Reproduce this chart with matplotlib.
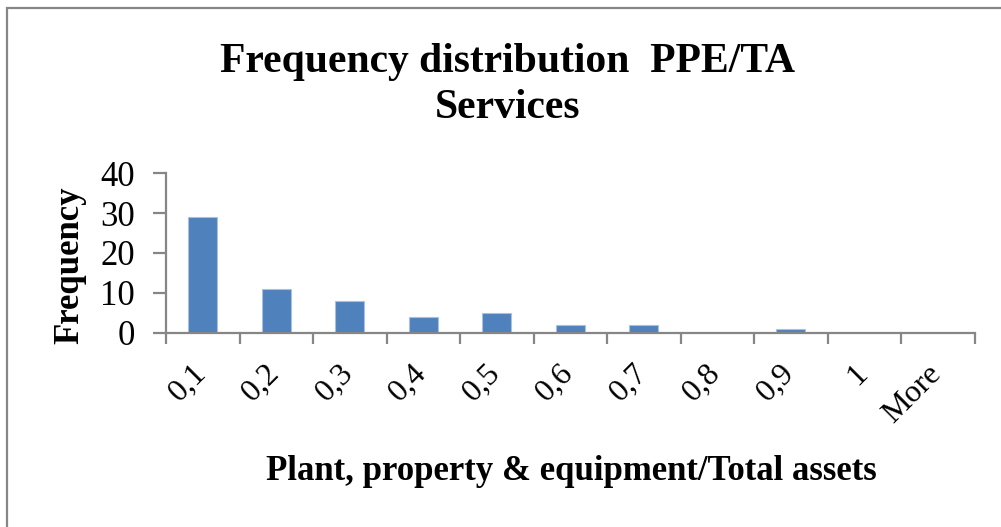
import matplotlib
matplotlib.use("Agg")
import matplotlib.pyplot as plt
from matplotlib.patches import Rectangle
from matplotlib.transforms import ScaledTranslation
import numpy as np

# histogram bins (upper edges) and counts
bins = ['0,1', '0,2', '0,3', '0,4', '0,5', '0,6', '0,7', '0,8', '0,9', '1', 'More']
frequency = [29, 11, 8, 4, 5, 2, 2, 0, 1, 0, 0]
y_ticks = [0, 10, 20, 30, 40]

title_lines = ['Frequency distribution  PPE/TA', 'Services']
x_label = 'Plant, property & equipment/Total assets'
y_label = 'Frequency'

bar_color = '#4F81BD'
axis_color = '#868686'
serif = ['Liberation Serif', 'DejaVu Serif']

W, H = 1001, 527
fig = plt.figure(figsize=(W / 100, H / 100), dpi=100)
ax = fig.add_axes([166 / W, 1 - 332.5 / H, 808.5 / W, 159.2 / H])

x = np.arange(len(bins))
ax.bar(x, frequency, width=0.4, color=bar_color, edgecolor='#a9c1e0', linewidth=0.8, zorder=2)

ax.set_xlim(-0.5, len(bins) - 0.5)
ax.set_ylim(0, 40)

# spines like an Excel chart: only the left and bottom axis lines
for side in ['top', 'right']:
    ax.spines[side].set_visible(False)
for side in ['left', 'bottom']:
    ax.spines[side].set_color(axis_color)
    ax.spines[side].set_linewidth(1.6)
    ax.spines[side].set_zorder(3)

ax.set_yticks(y_ticks)
ax.set_yticklabels([str(v) for v in y_ticks], fontsize=25, family=serif)
ax.tick_params(axis='y', length=9.4, width=1.6, color=axis_color, pad=13)

# category labels at centres, tick marks between categories
ax.set_xticks(x)
ax.set_xticks(np.arange(-0.5, len(bins)), minor=True)
ax.tick_params(axis='x', which='major', length=0, pad=19)
ax.tick_params(axis='x', which='minor', length=7.7, width=1.6, color=axis_color)
ax.set_xticklabels(bins, fontsize=23, family=serif, rotation=45,
                   ha='right', va='top', rotation_mode='anchor')
shift = ScaledTranslation(-11 / 100, 0, fig.dpi_scale_trans)
for lab in ax.get_xticklabels():
    lab.set_transform(lab.get_transform() + shift)

fig.text(70 / W, 1 - 265 / H, y_label, fontsize=25, fontweight='bold', family=serif,
         rotation=90, ha='center', va='center')
fig.text(571 / W, 1 - 472 / H, x_label, fontsize=25, fontweight='bold', family=serif,
         ha='center', va='center')
fig.text(508 / W, 1 - 62 / H, title_lines[0], fontsize=30, fontweight='bold', family=serif,
         ha='center', va='center')
fig.text(508 / W, 1 - 108 / H, title_lines[1], fontsize=30, fontweight='bold', family=serif,
         ha='center', va='center')

# chart area border
fig.patches.append(Rectangle((7 / W, -0.05), 1.1, 1 - 8 / H + 0.05,
                             transform=fig.transFigure, fill=False,
                             edgecolor=axis_color, linewidth=1.6))

fig.savefig('out.png', dpi=100)
